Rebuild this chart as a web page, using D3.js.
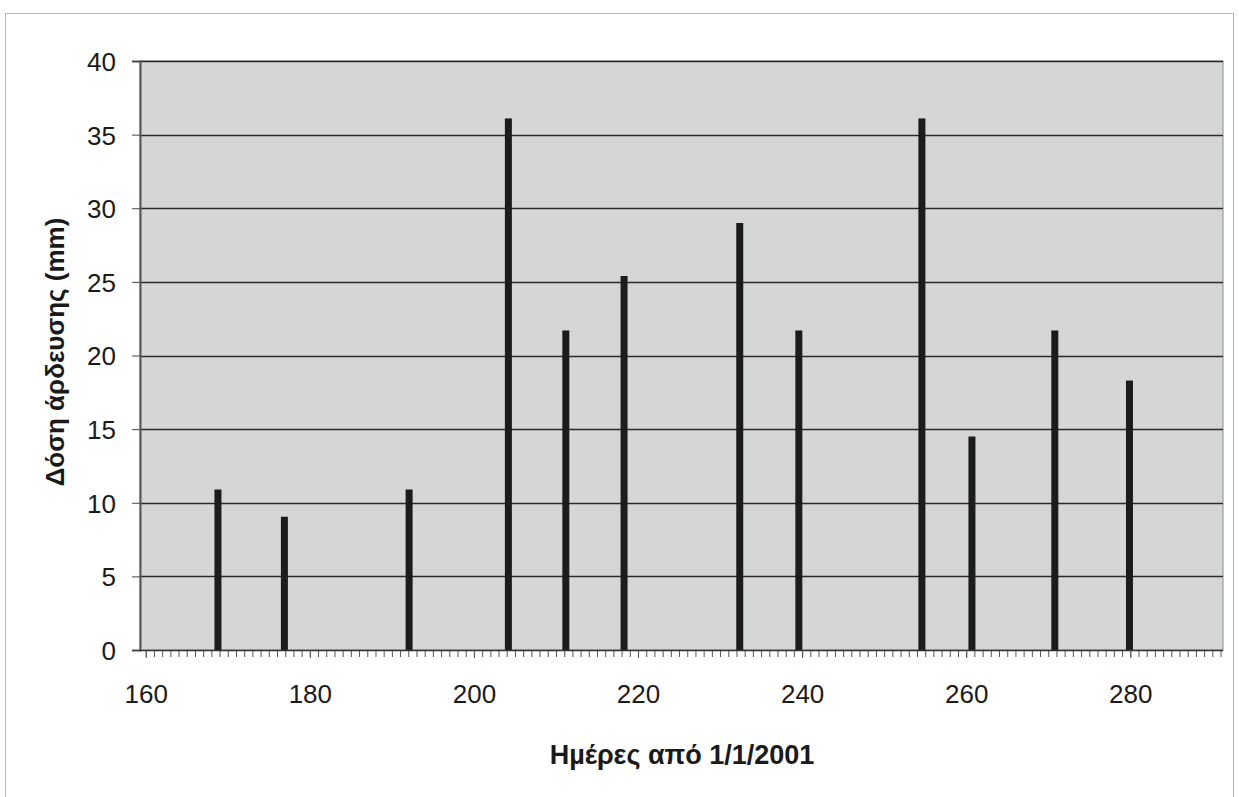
<!DOCTYPE html>
<html>
<head>
<meta charset="utf-8">
<script src="https://cdn.jsdelivr.net/npm/d3@7"></script>
<style>
  html, body { margin: 0; padding: 0; background: #ffffff; }
  svg { display: block; }
</style>
</head>
<body>
<svg id="chart" width="1239" height="797"></svg>
<script>
// Data
const days = [168.8, 176.9, 192.1, 204.2, 211.2, 218.3, 232.4, 239.6, 254.6, 260.7, 270.8, 279.9];
const doses = [10.9, 9.05, 10.9, 36.1, 21.7, 25.4, 29.0, 21.7, 36.1, 14.5, 21.7, 18.3];
const xTicks = [160, 180, 200, 220, 240, 260, 280];
const yTicks = [0, 5, 10, 15, 20, 25, 30, 35, 40];
const xTitle = "Ηµέρες από 1/1/2001";
const yTitle = "Δόση άρδευσης (mm)";

const svg = d3.select("#chart");
const L = 140, R = 1223, T = 61, B = 650;
const FONT = "Liberation Sans, Arial, sans-serif";

const x = d3.scaleLinear().domain([159.3, 291.3]).range([L, R]);
const y = d3.scaleLinear().domain([0, 40]).range([B, T]);

// chart area border
svg.append("rect").attr("x", 5.5).attr("y", 13.5).attr("width", 1228).attr("height", 800)
  .attr("fill", "none").attr("stroke", "#b5b5b5").attr("stroke-width", 1);

// plot area
svg.append("rect").attr("x", L).attr("y", T).attr("width", R - L).attr("height", B - T)
  .attr("fill", "#d5d7d7").attr("stroke", "#8a8a8a").attr("stroke-width", 1);

// gridlines
svg.append("g").selectAll("line").data(yTicks.filter(d => d > 0)).join("line")
  .attr("x1", L).attr("x2", R)
  .attr("y1", d => Math.round(y(d)) + 0.5).attr("y2", d => Math.round(y(d)) + 0.5)
  .attr("stroke", "#2a2a2a").attr("stroke-width", 1.3);

// bars (vertical sticks)
svg.append("g").selectAll("rect").data(days.map((d, i) => [d, doses[i]])).join("rect")
  .attr("x", d => x(d[0]) - 3.5).attr("width", 7)
  .attr("y", d => y(d[1])).attr("height", d => B - y(d[1]))
  .attr("fill", "#1c1c1c");

// y axis
const yAxis = d3.axisLeft(y).tickValues(yTicks).tickSize(8).tickPadding(16).tickFormat(d3.format("d"));
const gy = svg.append("g").attr("transform", `translate(${L},0)`).call(yAxis);
gy.select(".domain").attr("stroke", "#555").attr("stroke-width", 2);
gy.selectAll(".tick line").attr("stroke", "#444");
gy.selectAll(".tick text").attr("font-family", FONT)
  .attr("font-size", 26).attr("fill", "#1a1a1a").attr("dy", "0.36em");

// x axis minor ticks (every day)
const minor = d3.range(160, 292, 1);
const xAxisMinor = d3.axisBottom(x).tickValues(minor).tickSize(7).tickFormat("");
const gxm = svg.append("g").attr("transform", `translate(0,${B})`).call(xAxisMinor);
gxm.select(".domain").remove();
gxm.selectAll(".tick line").attr("stroke", "#555").attr("stroke-width", 1);

// x axis major
const xAxis = d3.axisBottom(x).tickValues(xTicks).tickSize(8).tickPadding(27).tickFormat(d3.format("d"));
const gx = svg.append("g").attr("transform", `translate(0,${B})`).call(xAxis);
gx.select(".domain").attr("d", `M${L},0.5H${R}`).attr("stroke", "#333").attr("stroke-width", 1.5);
gx.selectAll(".tick line").attr("stroke", "#555");
gx.selectAll(".tick text").attr("font-family", FONT)
  .attr("font-size", 26).attr("fill", "#1a1a1a");

// titles
svg.append("text").attr("x", 682).attr("y", 764).attr("text-anchor", "middle")
  .attr("font-family", FONT).attr("font-weight", "bold")
  .attr("font-size", 27).attr("fill", "#1a1a1a").text(xTitle);

svg.append("text").attr("transform", "translate(64,352) rotate(-90)").attr("text-anchor", "middle")
  .attr("font-family", FONT).attr("font-weight", "bold")
  .attr("font-size", 26).attr("fill", "#1a1a1a").text(yTitle);
</script>
</body>
</html>
